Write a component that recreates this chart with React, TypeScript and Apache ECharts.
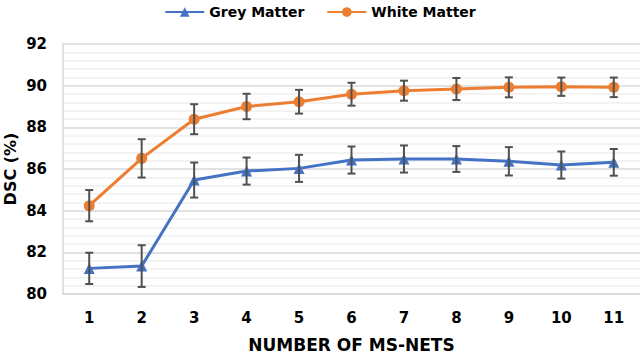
import React, { useEffect, useRef } from "react";
import * as echarts from "echarts";

const categories = ["1", "2", "3", "4", "5", "6", "7", "8", "9", "10", "11"];
const greyMatter = [81.23, 81.34, 85.47, 85.9, 86.03, 86.43, 86.48, 86.48, 86.37, 86.19, 86.32];
const greyError = [0.75, 1.0, 0.84, 0.65, 0.65, 0.65, 0.65, 0.62, 0.68, 0.65, 0.64];
const whiteMatter = [84.24, 86.51, 88.39, 89.0, 89.23, 89.59, 89.76, 89.84, 89.92, 89.95, 89.92];
const whiteError = [0.75, 0.92, 0.72, 0.61, 0.57, 0.55, 0.48, 0.53, 0.48, 0.44, 0.47];

const FONT = "DejaVu Sans";

function errorSeries(values: number[], errors: number[]) {
  return {
    type: "custom",
    z: 10,
    silent: true,
    data: values.map((v, i) => [i, v, errors[i]]),
    encode: { x: 0, y: 1 },
    renderItem: (params: any, api: any) => {
      const x = api.value(0);
      const v = api.value(1);
      const e = api.value(2);
      const top = api.coord([x, v + e]);
      const bot = api.coord([x, v - e]);
      const hw = 4;
      const style = { stroke: "#505050", lineWidth: 2 };
      return {
        type: "group",
        children: [
          { type: "line", shape: { x1: top[0], y1: top[1], x2: bot[0], y2: bot[1] }, style },
          { type: "line", shape: { x1: top[0] - hw, y1: top[1], x2: top[0] + hw, y2: top[1] }, style },
          { type: "line", shape: { x1: bot[0] - hw, y1: bot[1], x2: bot[0] + hw, y2: bot[1] }, style },
        ],
      };
    },
  };
}

export default function App() {
  const ref = useRef<HTMLDivElement>(null);
  useEffect(() => {
    const chart = echarts.init(ref.current!, null, { renderer: "svg" });
    chart.setOption({
      animation: false,
      backgroundColor: "#ffffff",
      legend: {
        top: 0,
        left: "center",
        itemWidth: 39,
        itemHeight: 12,
        itemGap: 22,
        data: ["Grey Matter", "White Matter"],
        textStyle: { fontFamily: FONT, fontWeight: "bold", fontSize: 14, color: "#000" },
      },
      grid: { left: 63, right: 0, top: 44, bottom: 60, outerBoundsMode: "none", containLabel: false },
      xAxis: {
        type: "category",
        data: categories,
        boundaryGap: true,
        name: "NUMBER OF MS-NETS",
        nameLocation: "middle",
        nameGap: 42,
        nameMoveOverlap: false,
        nameTextStyle: { fontFamily: FONT, fontWeight: "bold", fontSize: 17, color: "#000" },
        axisLine: { show: true, lineStyle: { color: "#d9d9d9", width: 1.5 } },
        axisTick: { show: false },
        axisLabel: { fontFamily: FONT, fontWeight: "bold", fontSize: 15, color: "#000", margin: 16 },
        splitLine: { show: false },
      },
      yAxis: {
        type: "value",
        min: 80,
        max: 92,
        interval: 2,
        name: "DSC (%)",
        nameLocation: "middle",
        nameGap: 45,
        nameRotate: 90,
        nameMoveOverlap: false,
        nameTextStyle: { fontFamily: FONT, fontWeight: "bold", fontSize: 16, color: "#000" },
        axisLine: { show: true, lineStyle: { color: "#d9d9d9", width: 1.5 } },
        axisTick: { show: false },
        axisLabel: { fontFamily: FONT, fontWeight: "bold", fontSize: 15, color: "#000", margin: 16 },
        splitLine: { show: true, lineStyle: { color: "#d9d9d9", width: 1.5 } },
        minorTick: { show: false, splitNumber: 5 },
        minorSplitLine: { show: true, lineStyle: { color: "#efefef", width: 1.5 } },
      },
      series: [
        {
          name: "Grey Matter",
          type: "line",
          data: greyMatter,
          color: "#4472C4",
          symbol: "triangle",
          symbolSize: 11,
          lineStyle: { width: 3, color: "#4472C4" },
          itemStyle: { color: "#4472C4" },
          z: 3,
        },
        {
          name: "White Matter",
          type: "line",
          data: whiteMatter,
          color: "#ED7D31",
          symbol: "circle",
          symbolSize: 11,
          lineStyle: { width: 3, color: "#ED7D31" },
          itemStyle: { color: "#ED7D31" },
          z: 3,
        },
        errorSeries(greyMatter, greyError),
        errorSeries(whiteMatter, whiteError),
      ],
    });
    return () => chart.dispose();
  }, []);
  return (
    <div
      ref={ref}
      style={{ position: "fixed", left: 0, top: 0, width: 640, height: 354 }}
    />
  );
}
